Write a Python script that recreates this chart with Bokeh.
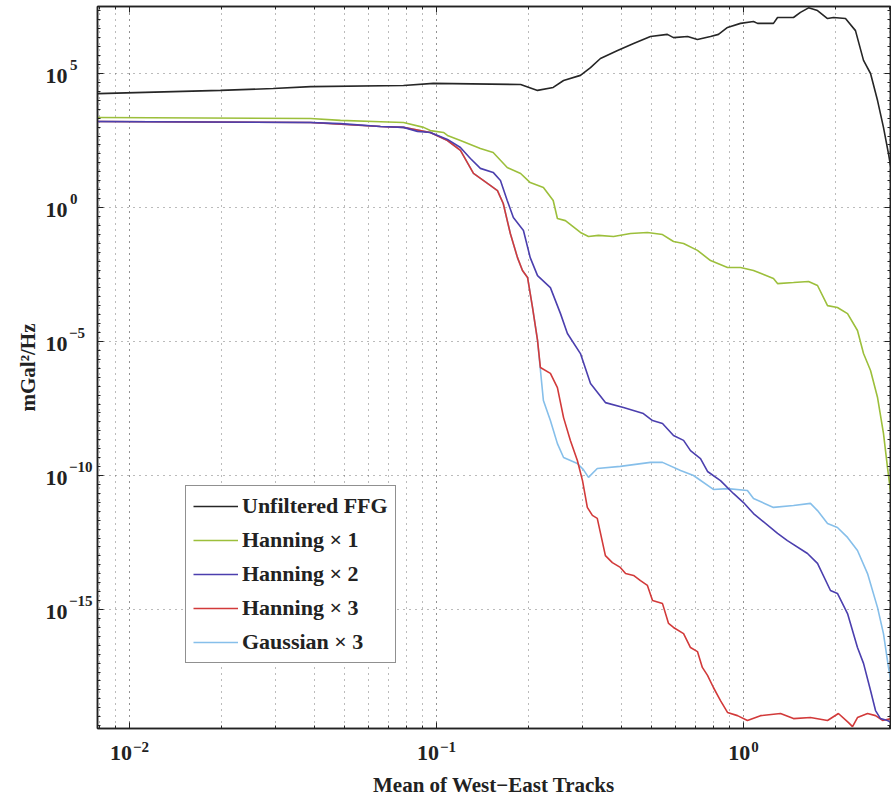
from bokeh.plotting import figure
from bokeh.models import (Range1d, FixedTicker, LogAxis, Legend, LegendItem,
                          CustomJSTickFormatter)
from bokeh.embed import file_html
from bokeh.resources import INLINE
import math

# ---------------- data ----------------
unf_x = [0.0079, 0.0198, 0.0294, 0.0389, 0.0781, 0.0977, 0.188, 0.2134, 0.240, 0.2594,
         0.2944, 0.3175, 0.342, 0.389, 0.4385, 0.4977, 0.565, 0.5916, 0.6577, 0.708,
         0.781, 0.829, 0.887, 0.978, 1.078, 1.111, 1.252, 1.291, 1.455, 1.533,
         1.629, 1.742, 1.878, 1.964, 2.149, 2.316, 2.460, 2.593, 2.733, 2.857, 2.966, 3.03]
unf_exp = [4.25, 4.37, 4.44, 4.51, 4.55, 4.63, 4.59, 4.37, 4.48, 4.74,
           4.93, 5.22, 5.56, 5.86, 6.12, 6.38, 6.46, 6.34, 6.38, 6.27,
           6.38, 6.46, 6.72, 6.87, 6.94, 6.87, 6.87, 7.09, 7.09, 7.28,
           7.45, 7.35, 7.05, 7.09, 7.05, 6.60, 5.49, 5.00, 3.99, 2.99, 2.01, 1.38]

h1_x = [0.0079, 0.0389, 0.0487, 0.0657, 0.0781, 0.0908, 0.0955, 0.1054, 0.1086, 0.1197,
        0.139, 0.153, 0.170, 0.188, 0.202, 0.223, 0.240, 0.2477, 0.263, 0.2944,
        0.3127, 0.337, 0.3773, 0.4285, 0.4865, 0.5448, 0.5916, 0.638, 0.708, 0.781,
        0.887, 0.978, 1.078, 1.252, 1.291, 1.455, 1.629, 1.742, 1.878, 2.023,
        2.182, 2.351, 2.460, 2.593, 2.733, 2.857, 2.944, 3.03]
h1_exp = [3.36, 3.32, 3.25, 3.20, 3.17, 2.99, 2.87, 2.80, 2.69, 2.50,
          2.20, 2.05, 1.49, 1.27, 0.93, 0.75, 0.26, -0.41, -0.49, -0.93,
          -1.08, -1.04, -1.08, -0.97, -0.93, -1.01, -1.27, -1.34, -1.60, -1.98,
          -2.24, -2.24, -2.35, -2.65, -2.84, -2.80, -2.76, -2.91, -3.66, -3.73,
          -3.96, -4.59, -5.45, -6.08, -7.09, -8.43, -9.70, -10.82]

h2_x = [0.0079, 0.0389, 0.0487, 0.0657, 0.0781, 0.0867, 0.0955, 0.1086, 0.1197, 0.129,
        0.139, 0.153, 0.1616, 0.170, 0.178, 0.192, 0.202, 0.2134, 0.235, 0.2535,
        0.267, 0.2944, 0.3175, 0.355, 0.4065, 0.472, 0.5055, 0.5448, 0.5916, 0.638,
        0.672, 0.7244, 0.7636, 0.8415, 0.927, 1.0, 1.078, 1.291, 1.390, 1.616,
        1.742, 1.920, 2.023, 2.182, 2.351, 2.460, 2.593, 2.692, 2.793, 2.944, 3.03]
h2_exp = [3.21, 3.17, 3.13, 3.02, 2.99, 2.84, 2.80, 2.54, 2.24, 1.83,
          1.46, 1.31, 1.01, 0.26, -0.37, -0.86, -1.87, -2.54, -2.99, -3.96,
          -4.70, -5.45, -6.57, -7.28, -7.46, -7.69, -7.95, -8.06, -8.51, -8.69,
          -9.07, -9.37, -9.85, -10.19, -10.67, -11.01, -11.42, -12.16, -12.43, -12.91,
          -13.28, -14.29, -14.40, -15.15, -16.42, -17.01, -18.02, -18.77, -19.07, -19.14, -19.22]

h3_x = [0.0079, 0.0389, 0.0657, 0.0781, 0.0955, 0.1086, 0.1197, 0.132, 0.1466, 0.158,
        0.165, 0.174, 0.1836, 0.1906, 0.198, 0.2055, 0.2134, 0.218, 0.235, 0.2477,
        0.2594, 0.273, 0.2877, 0.299, 0.310, 0.322, 0.334, 0.355, 0.374, 0.397,
        0.413, 0.4385, 0.4618, 0.4865, 0.5055, 0.5448, 0.570, 0.5916, 0.638, 0.672,
        0.708, 0.7345, 0.7636, 0.798, 0.8415, 0.887, 0.956, 1.030, 1.136, 1.320,
        1.455, 1.652, 1.878, 2.038, 2.198, 2.265, 2.351, 2.535, 2.692, 2.837, 3.03]
h3_exp = [3.21, 3.17, 3.02, 2.99, 2.80, 2.50, 2.13, 1.27, 0.90, 0.63,
          0.15, -0.97, -1.87, -2.35, -2.61, -3.73, -4.96, -5.97, -6.19, -6.72,
          -7.84, -8.69, -9.44, -10.19, -11.19, -11.49, -11.60, -12.99, -13.25, -13.43,
          -13.66, -13.73, -13.92, -14.10, -14.66, -14.78, -15.52, -15.67, -15.90, -16.42,
          -16.57, -17.16, -17.46, -17.91, -18.40, -18.84, -18.96, -19.14, -18.96, -18.88,
          -19.07, -19.03, -19.14, -18.88, -19.22, -19.37, -19.03, -18.88, -18.96, -19.14, -19.07]

g3_x = [0.0079, 0.0389, 0.0657, 0.0781, 0.0955, 0.1086, 0.1197, 0.132, 0.1466, 0.158,
        0.165, 0.174, 0.1836, 0.1906, 0.198, 0.2055, 0.2134, 0.223, 0.235, 0.2477,
        0.2594, 0.2877, 0.301, 0.3127, 0.334, 0.397, 0.4977, 0.5448, 0.6237, 0.6874,
        0.798, 0.887, 1.030, 1.078, 1.252, 1.455, 1.652, 1.742, 1.878, 2.023,
        2.182, 2.351, 2.535, 2.733, 2.857, 2.966, 3.03]
g3_exp = [3.21, 3.17, 3.02, 2.99, 2.80, 2.50, 2.13, 1.27, 0.90, 0.63,
          0.15, -0.97, -1.87, -2.35, -2.61, -3.73, -4.96, -7.20, -7.95, -8.81,
          -9.33, -9.55, -9.78, -10.07, -9.74, -9.66, -9.51, -9.51, -9.81, -10.00,
          -10.52, -10.49, -10.56, -10.86, -11.19, -11.12, -11.04, -11.31, -11.79, -11.94,
          -12.31, -12.80, -13.66, -14.93, -15.90, -17.16, -17.76]

series_names = ["Unfiltered FFG", "Hanning \u00d7 1", "Hanning \u00d7 2",
                "Hanning \u00d7 3", "Gaussian \u00d7 3"]
series_colors = ["#262626", "#9CBF3B", "#4B3FAE", "#D23A3A", "#86BFEA"]

x_major = [0.01, 0.1, 1.0]
y_major = [1e5, 1e0, 1e-5, 1e-10, 1e-15]

# ---------------- figure ----------------
FONT = "Liberation Serif"
INK = "#222222"
LX0, LX1 = -2.104, 0.4788
LY0, LY1 = -19.44, 7.5
FRAME_W, FRAME_H = 793, 722
ppd_x = FRAME_W / (LX1 - LX0)
ppd_y = FRAME_H / (LY1 - LY0)

p = figure(width=891, height=800, x_axis_type="log", y_axis_type="log",
           x_range=Range1d(10 ** LX0, 10 ** LX1), y_range=Range1d(10 ** LY0, 10 ** LY1),
           output_backend="svg", toolbar_location=None,
           min_border_left=97, min_border_right=1, min_border_top=6,
           min_border_bottom=72, background_fill_color="white",
           border_fill_color="white")

x_minor = [k * 10.0 ** d for d in range(-3, 1) for k in range(1, 10)]
y_minor = [10 ** (k / 3.0) for k in range(-60, 24)]
xt = FixedTicker(ticks=x_major, minor_ticks=x_minor)
yt = FixedTicker(ticks=y_major, minor_ticks=y_minor)

def style_tick_axis(ax, tk):
    ax.ticker = tk
    ax.axis_line_color = INK
    ax.axis_line_width = 1.5
    ax.major_tick_line_color = INK
    ax.minor_tick_line_color = INK
    ax.major_tick_in = 6
    ax.major_tick_out = 0
    ax.minor_tick_in = 3
    ax.minor_tick_out = 0
    ax.major_label_text_font_size = "0px"
    ax.major_label_text_color = None
    ax.major_label_standoff = 0

style_tick_axis(p.xaxis[0], xt)
style_tick_axis(p.yaxis[0], yt)
for loc, tk in (("above", xt), ("right", yt)):
    a = LogAxis()
    style_tick_axis(a, tk)
    p.add_layout(a, loc)

# ---- tick labels: "10" and a raised exponent, each on its own label axis ----
TEN_CODE = "return '10';"
EXP_CODE = """
const e = Math.round(Math.log10(tick));
let s = String(e).replace('-', '\\u2212');
while (s.length < pad) { s = s + '\\u2007'; }
return s;
"""

def label_axis(ticks, code, size, standoff, side, pad=0):
    ax = LogAxis(ticker=FixedTicker(ticks=ticks, minor_ticks=[]),
                 formatter=CustomJSTickFormatter(code=code, args=dict(pad=pad)),
                 axis_line_color=None, major_tick_line_color=None,
                 minor_tick_line_color=None, major_tick_in=0, major_tick_out=0,
                 minor_tick_in=0, minor_tick_out=0, major_label_standoff=standoff,
                 major_label_text_font=FONT, major_label_text_font_style="bold",
                 major_label_text_font_size=size, major_label_text_color=INK)
    p.add_layout(ax, side)
    return ax

TEN_PX, EXP_PX = 22, 15

def exp_w(v):
    s = str(int(round(math.log10(v))))
    return sum(0.57 if c == '-' else 0.5 for c in s) * EXP_PX

# x axis: exponent (closer to the frame, raised), then "10"
x_exp_ticks, x_ten_ticks = [], []
for v in x_major:
    total = TEN_PX + 1 + exp_w(v)
    ten_off = -total / 2 + TEN_PX / 2
    exp_off = -total / 2 + TEN_PX + 1 + exp_w(v) / 2
    x_ten_ticks.append(v * 10 ** (ten_off / ppd_x))
    x_exp_ticks.append(v * 10 ** (exp_off / ppd_x))
label_axis(x_exp_ticks, EXP_CODE, "%dpx" % EXP_PX, 13, "below")
x_ten = label_axis(x_ten_ticks, TEN_CODE, "%dpx" % TEN_PX, -9, "below")
x_ten.axis_label = "Mean of West\u2212East Tracks"
x_ten.axis_label_standoff = 10

# y axis: exponent (closer to the frame, raised, padded), then "10"
y_exp_ticks = [v * 10 ** (9.0 / ppd_y) for v in y_major]
y_ten_ticks = [v * 10 ** (-2.5 / ppd_y) for v in y_major]
label_axis(y_exp_ticks, EXP_CODE, "%dpx" % EXP_PX, 5, "left", pad=3)
y_ten = label_axis(y_ten_ticks, TEN_CODE, "%dpx" % TEN_PX, -2, "left")
y_ten.axis_label = "mGal\u00b2/Hz"
y_ten.axis_label_standoff = 3

for ax in (x_ten, y_ten):
    ax.axis_label_text_font = FONT
    ax.axis_label_text_font_style = "bold"
    ax.axis_label_text_font_size = "21px"
    ax.axis_label_text_color = INK

# ---- grid ----
p.xgrid.ticker = xt
p.ygrid.ticker = yt
for g in (p.xgrid, p.ygrid):
    g.grid_line_color = "#555555"
    g.grid_line_dash = "1 5"
    g.grid_line_alpha = 0.8
p.xgrid.minor_grid_line_color = "#555555"
p.xgrid.minor_grid_line_dash = "1 5"
p.xgrid.minor_grid_line_alpha = 0.8
p.outline_line_color = INK
p.outline_line_width = 1.5

# ---- lines ----
xs = [unf_x, h1_x, h2_x, h3_x, g3_x]
ys = [unf_exp, h1_exp, h2_exp, h3_exp, g3_exp]
renderers = {}
for i in [0, 1, 4, 3, 2]:
    yy = [10 ** e for e in ys[i]]
    renderers[i] = p.line(xs[i], yy, line_color=series_colors[i], line_width=1.6)

items = [LegendItem(label=series_names[i], renderers=[renderers[i]]) for i in range(5)]
legend = Legend(items=items, location=(88, 65),
                label_text_font=FONT, label_text_font_style="bold",
                label_text_font_size="22px", label_text_color=INK,
                glyph_width=45, glyph_height=26, label_height=26, label_standoff=4,
                spacing=8, padding=7, margin=0,
                border_line_color=INK, border_line_width=1.5,
                background_fill_color="white", background_fill_alpha=1.0)
p.add_layout(legend)

open("out.html", "w").write(file_html(p, INLINE))
